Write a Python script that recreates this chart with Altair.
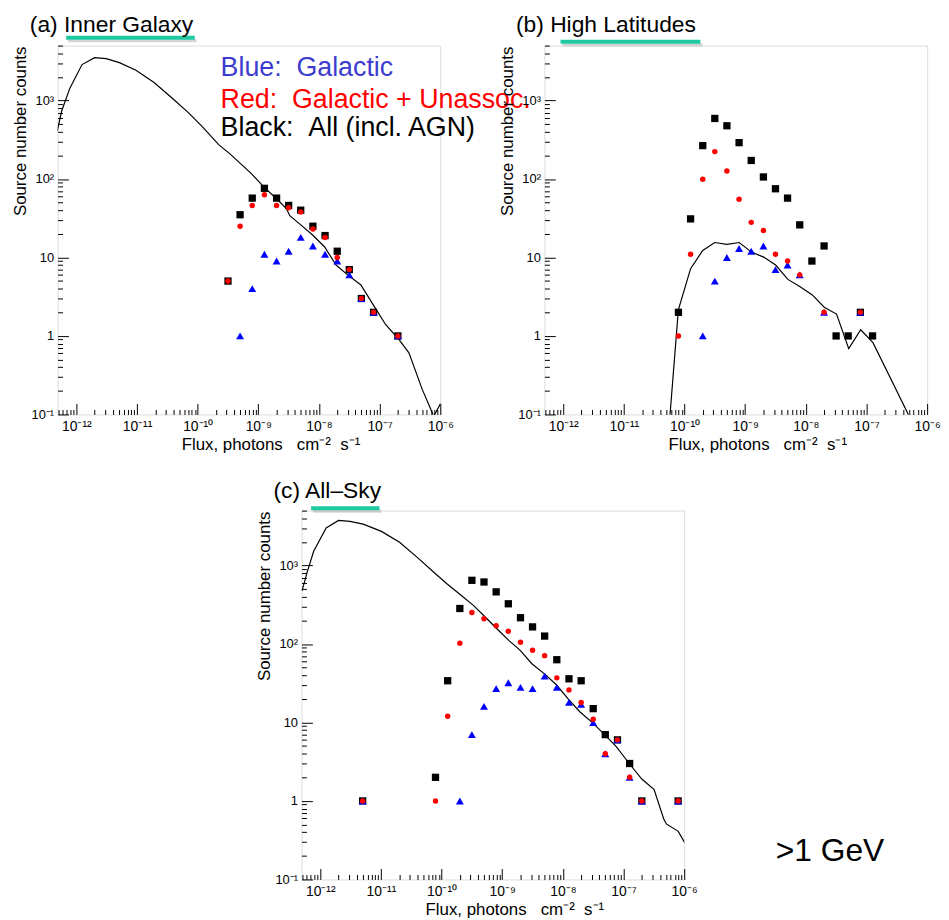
import altair as alt
import pandas as pd

FONT = "Liberation Sans"
W, H = 386, 372
XDOM = [4.9e-13, 1e-6]
YDOM = [0.1, 5000]

# ---------------- Panel (a) Inner Galaxy ----------------
a_all_flux = [3.16e-10, 5.0e-10, 7.94e-10, 1.26e-9, 2.0e-9, 3.16e-9, 5.0e-9, 7.94e-9,
              1.26e-8, 2.0e-8, 3.16e-8, 5.0e-8, 7.94e-8, 2.0e-7]
a_all = [5, 35, 57, 76, 57, 46, 40, 25, 19, 12, 7, 3, 2, 1]
a_red = [5, 25, 46, 63, 46, 43, 38, 23, 18, 10, 7, 3, 2, 1]
a_blue_flux = [5.0e-10, 7.94e-10, 1.26e-9, 2.0e-9, 3.16e-9, 5.0e-9, 7.94e-9,
               1.26e-8, 2.0e-8, 3.16e-8, 5.0e-8, 7.94e-8, 2.0e-7]
a_blue = [1, 4, 11, 9, 12, 18, 14, 11, 9, 6, 3, 2, 1]
a_curve_flux = [4.83e-13, 5.69e-13, 7.78e-13, 1.24e-12, 2.0e-12, 3.10e-12, 5.12e-12, 9.6e-12,
                1.91e-11, 3.82e-11, 7.16e-11, 1.18e-10, 2.22e-10, 3.44e-10, 7.76e-10, 1.25e-9,
                2.0e-9, 2.9e-9, 3.30e-9, 5.12e-9, 7.94e-9, 1.24e-8, 1.91e-8, 2.97e-8, 4.91e-8,
                8.13e-8, 1.26e-7, 2.09e-7, 3.04e-7, 5.02e-7, 7.8e-7, 1.02e-6]
a_curve = [404, 723, 1425, 2864, 3510, 3410, 3034, 2429, 1694, 1065, 689, 467, 274, 207, 116,
           78, 56, 42, 34, 25.6, 19.2, 13.6, 8.0, 6.0, 4.46, 2.38, 1.39, 0.9, 0.61, 0.21, 0.095, 0.14]

# ---------------- Panel (b) High Latitudes ----------------
b_all_flux = [7.94e-11, 1.26e-10, 2.0e-10, 3.16e-10, 5.0e-10, 7.94e-10, 1.26e-9, 2.0e-9,
              3.16e-9, 5.0e-9, 7.94e-9, 1.26e-8, 2.0e-8, 3.16e-8, 5.0e-8, 7.94e-8, 1.26e-7]
b_all = [2, 31, 266, 590, 476, 290, 172, 106, 75, 57, 26, 9, 14, 1, 1, 2, 1]
b_red_flux = [7.94e-11, 1.26e-10, 2.0e-10, 3.16e-10, 5.0e-10, 7.94e-10, 1.26e-9, 2.0e-9,
              3.16e-9, 5.0e-9, 7.94e-9, 2.0e-8, 7.94e-8]
b_red = [1, 11, 99, 223, 126, 55, 28, 22, 11, 9, 6, 2, 2]
b_blue_flux = [2.0e-10, 3.16e-10, 5.0e-10, 7.94e-10, 1.26e-9, 2.0e-9, 3.16e-9, 5.0e-9,
               7.94e-9, 2.0e-8, 7.94e-8]
b_blue = [1, 5, 10, 13, 12, 14, 7, 8, 6, 2, 2]
b_curve_flux = [5.57e-11, 7.92e-11, 1.26e-10, 2.0e-10, 3.15e-10, 5.0e-10, 7.98e-10, 1.27e-9,
                2.02e-9, 3.18e-9, 5.06e-9, 8.05e-9, 1.28e-8, 2.01e-8, 3.21e-8, 5.1e-8,
                8.04e-8, 1.28e-7, 4.9e-7, 5.6e-7]
b_curve = [0.07, 2.15, 7.2, 12.3, 15.5, 14.7, 15.5, 11.7, 10.1, 8.0, 5.25, 4.24, 3.33,
           2.32, 1.9, 0.69, 1.2, 0.82, 0.1, 0.07]

# ---------------- Panel (c) All-Sky ----------------
c_all_flux = [5.0e-12, 7.94e-11, 1.26e-10, 2.0e-10, 3.16e-10, 5.0e-10, 7.94e-10, 1.26e-9,
              2.0e-9, 3.16e-9, 5.0e-9, 7.94e-9, 1.26e-8, 2.0e-8, 3.16e-8, 5.0e-8, 7.94e-8,
              1.26e-7, 2.0e-7, 7.94e-7]
c_all = [1, 2, 34, 283, 647, 616, 461, 325, 216, 165, 126, 63, 36, 34, 15, 7, 6, 3, 1, 1]
c_red = [1, 1, 12, 102, 252, 210, 171, 145, 105, 83, 71, 37, 26, 18, 11, 4, 6, 2, 1, 1]
c_blue_flux = [5.0e-12, 2.0e-10, 3.16e-10, 5.0e-10, 7.94e-10, 1.26e-9, 2.0e-9, 3.16e-9,
               5.0e-9, 7.94e-9, 1.26e-8, 2.0e-8, 3.16e-8, 5.0e-8, 7.94e-8, 1.26e-7,
               2.0e-7, 7.94e-7]
c_blue = [1, 1, 7, 16, 27, 32, 28, 27, 39, 28, 18, 17, 10, 4, 6, 2, 1, 1]
c_curve_flux = [5.0e-13, 6.05e-13, 7.78e-13, 1.25e-12, 2.0e-12, 3.09e-12, 5.1e-12, 1.02e-11,
                2.03e-11, 4.06e-11, 7.59e-11, 1.25e-10, 2.07e-10, 3.42e-10, 5.65e-10, 8.24e-10,
                1.28e-9, 1.98e-9, 3.08e-9, 5.08e-9, 7.87e-9, 1.22e-8, 1.90e-8, 3.13e-8,
                4.86e-8, 7.53e-8, 1.24e-7, 2.0e-7, 3.19e-7, 4.6e-7, 5.08e-7, 7.98e-7, 1.03e-6]
c_curve = [474, 809, 1520, 2998, 3746, 3640, 3366, 2717, 1972, 1251, 809, 576, 420, 306,
           208, 155, 111, 83, 56, 41, 30, 20, 13.7, 9.8, 7.0, 4.96, 3.0, 1.9, 1.4, 0.59,
           0.51, 0.41, 0.29]

# ---------------- axes ticks / labels ----------------
x_major = [1e-12, 1e-11, 1e-10, 1e-9, 1e-8, 1e-7, 1e-6]
x_major_labels = {-12: "10⁻¹²", -11: "10⁻¹¹", -10: "10⁻¹⁰", -9: "10⁻⁹",
                  -8: "10⁻⁸", -7: "10⁻⁷", -6: "10⁻⁶"}
x_minor = [m * d for d in [1e-13, 1e-12, 1e-11, 1e-10, 1e-9, 1e-8, 1e-7]
           for m in [2, 3, 4, 5, 6, 7, 8, 9] if XDOM[0] <= m * d <= XDOM[1]]
y_major = [0.1, 1, 10, 100, 1000]
y_major_labels = {-1: "10⁻¹", 0: "1", 1: "10", 2: "10²", 3: "10³"}
y_minor = [m * d for d in [0.1, 1, 10, 100, 1000]
           for m in [2, 3, 4, 5, 6, 7, 8, 9] if m * d <= YDOM[1]]

X_TITLE = "Flux, photons\u00a0\u00a0\u00a0cm⁻²\u00a0\u00a0s⁻¹"
Y_TITLE = "Source number counts"
TEAL = "#1fcaa2"


def label_expr(mapping):
    return "".join(f"round(log(datum.value)/LN10) == {k} ? '{v}' : " for k, v in mapping.items()) + "''"


def xscale():
    return alt.Scale(type="log", domain=XDOM, nice=False)


def yscale():
    return alt.Scale(type="log", domain=YDOM, nice=False)


major_x = alt.Axis(values=x_major, labelExpr=label_expr(x_major_labels), orient="bottom",
                   offset=-11, tickSize=11, tickColor="black", tickWidth=1, domain=False,
                   grid=False, labelFont=FONT, labelFontSize=14, labelColor="black",
                   labelPadding=5, labelBaseline="top", labelAlign="center", labelFlush=False,
                   labelOverlap=False, title=X_TITLE, titleFont=FONT, titleFontSize=17,
                   titleFontWeight="normal", titleColor="black", titleX=214.7, titleY=46,
                   titleAlign="center", titleBaseline="alphabetic")
major_y = alt.Axis(values=y_major, labelExpr=label_expr(y_major_labels), orient="left",
                   offset=-11, tickSize=11, tickColor="black", tickWidth=1, domain=False,
                   grid=False, labelFont=FONT, labelFontSize=13, labelColor="black",
                   labelPadding=4, labelAlign="right", labelBaseline="middle",
                   labelFlush=False, labelOverlap=False, title=Y_TITLE, titleFont=FONT,
                   titleFontSize=17, titleFontWeight="normal", titleColor="black",
                   titleAngle=270, titleX=-48.3, titleY=86, titleAlign="center",
                   titleBaseline="middle")
minor_x = alt.Axis(values=x_minor, orient="bottom", offset=-5, tickSize=5, tickColor="black",
                   tickWidth=1, domain=False, grid=False, labels=False, title=None)
minor_y = alt.Axis(values=y_minor, orient="left", offset=-5, tickSize=5, tickColor="black",
                   tickWidth=1, domain=False, grid=False, labels=False, title=None)

one = pd.DataFrame({"k": [0]})


def text_layer(txt, x, y, size, color="black", align="left", baseline="alphabetic", opacity=1.0):
    return alt.Chart(one).mark_text(text=txt, font=FONT, fontSize=size, color=color,
                                    align=align, baseline=baseline, opacity=opacity).encode(
        x=alt.value(x), y=alt.value(y))


def panel(all_flux, all_n, red_flux, red_n, blue_flux, blue_n, cflux, cn,
          title, tx, ty, ux1, ux2, uy, extras):
    df_all = pd.DataFrame({"flux": all_flux, "n": all_n})
    df_red = pd.DataFrame({"flux": red_flux, "n": red_n})
    df_blue = pd.DataFrame({"flux": blue_flux, "n": blue_n})
    df_curve = pd.DataFrame({"flux": cflux, "n": cn})

    line = alt.Chart(df_curve).mark_line(color="black", strokeWidth=1.2, clip=True).encode(
        x=alt.X("flux:Q", scale=xscale(), axis=major_x),
        y=alt.Y("n:Q", scale=yscale(), axis=major_y),
        order="flux:Q")
    sq = alt.Chart(df_all).mark_point(shape="square", filled=True, size=54, color="black",
                                      opacity=1).encode(
        x=alt.X("flux:Q", scale=xscale(), axis=minor_x),
        y=alt.Y("n:Q", scale=yscale(), axis=minor_y))
    tri = alt.Chart(df_blue).mark_point(shape="triangle-up", filled=True, size=64,
                                        color="#0000ff", opacity=1).encode(
        x=alt.X("flux:Q", scale=xscale(), axis=None),
        y=alt.Y("n:Q", scale=yscale(), axis=None))
    cir = alt.Chart(df_red).mark_circle(size=30, color="#ff0000", opacity=1).encode(
        x=alt.X("flux:Q", scale=xscale(), axis=None),
        y=alt.Y("n:Q", scale=yscale(), axis=None))

    shadow = alt.Chart(one).mark_rule(color="#8a8a8a", strokeWidth=3, opacity=0.35).encode(
        x=alt.value(ux1 + 2), x2=alt.value(ux2 + 2), y=alt.value(uy + 3))
    under = alt.Chart(one).mark_rule(color=TEAL, strokeWidth=4).encode(
        x=alt.value(ux1), x2=alt.value(ux2), y=alt.value(uy))
    ttl = text_layer(title, tx, ty, 23)

    layers = [line, sq, tri, cir, shadow, under, ttl] + extras
    return alt.layer(*layers).properties(width=W, height=H).resolve_axis(
        x="independent", y="independent")


a_extras = [
    text_layer("Blue:\u00a0\u00a0Galactic", 164.4, 31, 27, color="#3c3ccf"),
    text_layer("Red:\u00a0\u00a0Galactic + Unassoc.", 164.4, 62.6, 27, color="#ff0000"),
    text_layer("Black:\u00a0\u00a0All (incl. AGN)", 164.4, 91.6, 27, color="black"),
    text_layer(".", -49, -33, 10, baseline="top", opacity=0),
    text_layer(".", 0, H + 50, 10, baseline="bottom", opacity=0),
]
c_extras = [
    text_layer(">1 GeV", 478.4, 353, 32),
    text_layer(".", 0, -40, 10, baseline="top", opacity=0),
]

pa = panel(a_all_flux, a_all, a_all_flux, a_red, a_blue_flux, a_blue, a_curve_flux, a_curve,
           "(a) Inner Galaxy", -28, -13.4, 8.7, 138.4, -8, a_extras)
pb = panel(b_all_flux, b_all, b_red_flux, b_red, b_blue_flux, b_blue, b_curve_flux, b_curve,
           "(b) High Latitudes", -28.7, -13.4, 16.3, 157.3, -3.9, [])
pc = panel(c_all_flux, c_all, c_all_flux, c_red, c_blue_flux, c_blue, c_curve_flux, c_curve,
           "(c) All–Sky", -28.3, -12.7, 9.7, 78.7, -2.4, c_extras)

spacer = alt.Chart(one).mark_text(text=" ", opacity=0).encode(
    x=alt.value(0), y=alt.value(0)).properties(
    width=246, height=10, view=alt.ViewBackground(stroke="transparent", strokeWidth=0))

row1 = alt.hconcat(pa, pb, spacing=105, bounds="flush")
row2 = alt.hconcat(spacer, pc, spacing=0, bounds="flush")
chart = alt.vconcat(row1, row2, spacing=5).properties(
    padding=0).configure_view(stroke="black", strokeWidth=1).configure(background="white")

chart.save("out.html", embed_options={"renderer": "svg", "actions": False})
